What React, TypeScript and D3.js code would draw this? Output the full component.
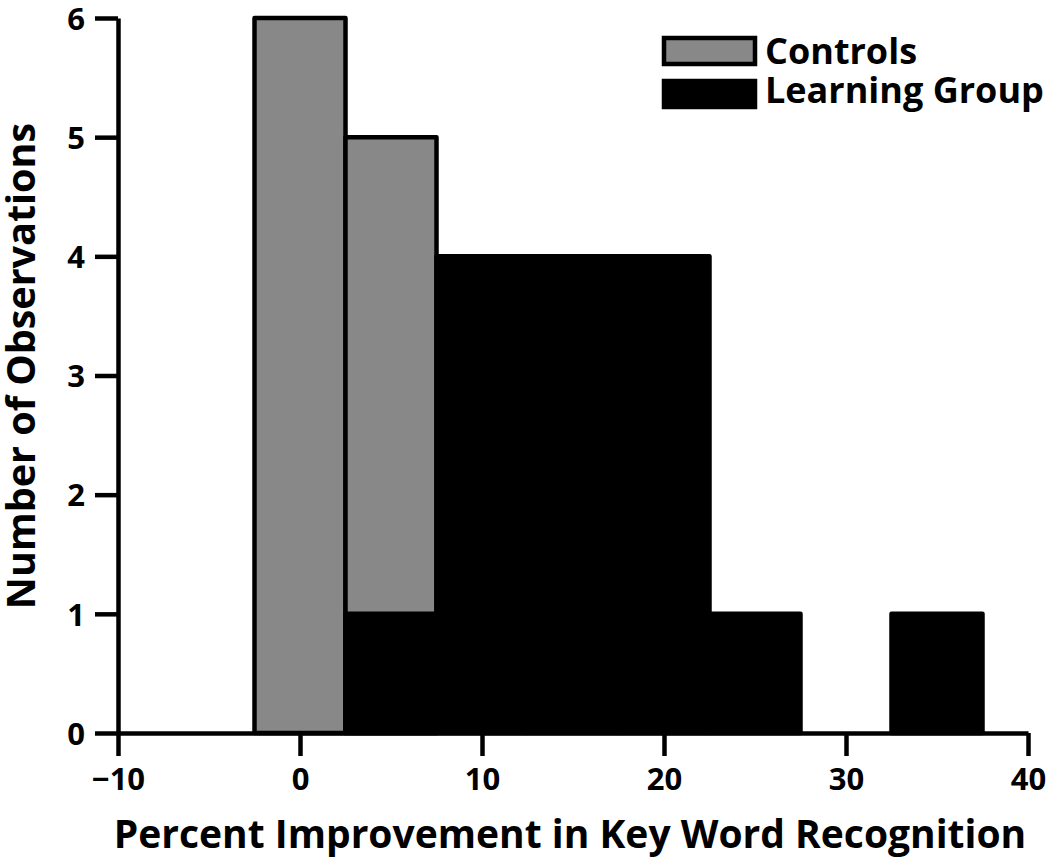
import React, { useRef, useEffect } from "react";
import * as d3 from "d3";

// histogram bins (center values, width 5)
const binCenters = [0, 5, 10, 15, 20, 25, 30, 35];
const binWidth = 5;
const controls = [6, 5, 0, 0, 0, 0, 0, 0];
const learningGroup = [0, 1, 4, 4, 4, 1, 0, 1];

const xTicks = [-10, 0, 10, 20, 30, 40];
const yTicks = [0, 1, 2, 3, 4, 5, 6];
const legendItems = [
  { label: "Controls", fill: "#888888" },
  { label: "Learning Group", fill: "#000000" },
];

const W = 1050;
const H = 859;
const FONT = "'Open Sans', 'DejaVu Sans', sans-serif";
const SW = 4.5;

export default function App() {
  const ref = useRef<SVGSVGElement>(null);

  useEffect(() => {
    const svg = d3.select(ref.current);
    svg.selectAll("*").remove();

    const x = d3.scaleLinear().domain([-10, 40]).range([118, 1028]);
    const y = d3.scaleLinear().domain([0, 6]).range([733, 18]);

    // controls (gray) first, learning group drawn on top
    const drawBars = (vals: number[], fill: string) => {
      svg.append("g")
        .selectAll("rect")
        .data(binCenters.map((c, i) => ({ c, v: vals[i] })).filter((d) => d.v > 0))
        .join("rect")
        .attr("x", (d) => x(d.c - binWidth / 2))
        .attr("y", (d) => y(d.v))
        .attr("width", (d) => x(d.c + binWidth / 2) - x(d.c - binWidth / 2))
        .attr("height", (d) => y(0) - y(d.v))
        .attr("fill", fill)
        .attr("stroke", "#000")
        .attr("stroke-width", SW)
        .attr("stroke-linejoin", "round");
    };
    drawBars(controls, "#888888");
    drawBars(learningGroup, "#000000");

    // axes
    const xAxis = svg.append("g")
      .attr("transform", `translate(0, ${y(0)})`)
      .call(d3.axisBottom(x).tickValues(xTicks).tickSize(23).tickSizeOuter(0).tickPadding(12)
        .tickFormat((d) => (+d < 0 ? "\u2212" + Math.abs(+d) : String(d))));
    const yAxis = svg.append("g")
      .attr("transform", `translate(${x(-10)}, 0)`)
      .call(d3.axisLeft(y).tickValues(yTicks).tickSize(23).tickSizeOuter(0).tickPadding(10)
        .tickFormat(d3.format("d")));

    [xAxis, yAxis].forEach((g) => {
      g.select(".domain").attr("stroke-width", SW);
      g.selectAll(".tick line").attr("stroke-width", SW);
      g.selectAll(".tick text")
        .attr("font-family", FONT)
        .attr("font-weight", 700)
        .attr("font-size", 31)
        .attr("fill", "#000");
    });
    xAxis.selectAll(".tick text").attr("dy", "0.71em");
    yAxis.selectAll(".tick text").attr("dy", "0.36em");

    // axis titles
    svg.append("text")
      .attr("x", 570)
      .attr("y", 848)
      .attr("text-anchor", "middle")
      .attr("font-family", FONT)
      .attr("font-weight", 700)
      .attr("font-size", 39)
      .text("Percent Improvement in Key Word Recognition");
    svg.append("text")
      .attr("transform", `translate(35, 366) rotate(-90)`)
      .attr("text-anchor", "middle")
      .attr("font-family", FONT)
      .attr("font-weight", 700)
      .attr("font-size", 39.5)
      .text("Number of Observations");

    // legend
    const lg = svg.append("g").attr("transform", "translate(664, 38)");
    legendItems.forEach((it, i) => {
      lg.append("rect")
        .attr("x", 0)
        .attr("y", i * 43)
        .attr("width", 91)
        .attr("height", 26)
        .attr("fill", it.fill)
        .attr("stroke", "#000")
        .attr("stroke-width", SW);
      lg.append("text")
        .attr("x", 101)
        .attr("y", i * 39 + 26)
        .attr("font-family", FONT)
        .attr("font-weight", 700)
        .attr("font-size", 36)
        .text(it.label);
    });
  }, []);

  return (
    <svg
      ref={ref}
      width={W}
      height={H}
      style={{ position: "absolute", left: 0, top: 0, background: "#fff" }}
    />
  );
}
